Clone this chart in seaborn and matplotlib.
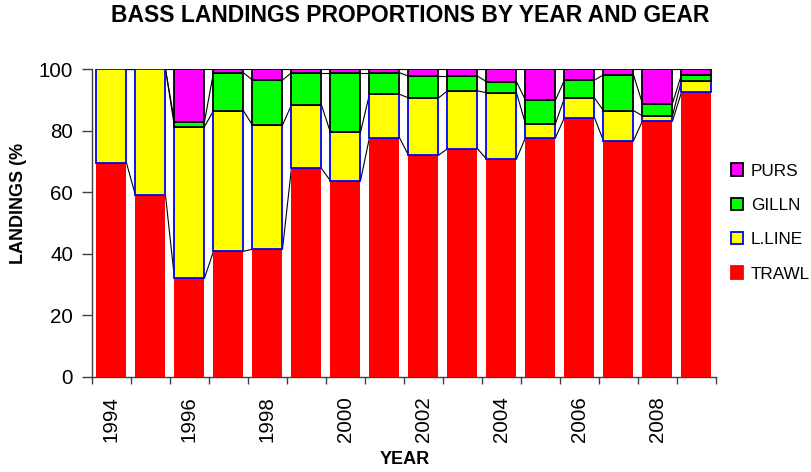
import numpy as np
import pandas as pd
import matplotlib
matplotlib.use("Agg")
import matplotlib.pyplot as plt
import seaborn as sns
from matplotlib.patches import Patch

# Share of bass landings (%) by gear, 1994-2009
years = [str(y) for y in range(1994, 2010)]
trawl = [69.5, 59.0, 32.1, 40.8, 41.5, 67.7, 63.7, 77.7, 72.0, 74.1, 70.8, 77.7, 84.2, 76.7, 83.1, 92.4]
lline = [30.5, 41.0, 49.2, 45.6, 40.3, 20.6, 15.7, 14.1, 18.6, 18.8, 21.5, 4.6, 6.4, 9.8, 1.7, 3.8]
gilln = [0.0, 0.0, 1.6, 12.4, 14.6, 10.5, 19.4, 7.0, 7.1, 4.8, 3.6, 7.6, 5.8, 11.6, 4.0, 1.9]
purs = [0.0, 0.0, 17.1, 1.2, 3.6, 1.2, 1.2, 1.2, 2.3, 2.3, 4.1, 10.1, 3.6, 1.9, 11.2, 1.9]

gears = ["TRAWL", "L.LINE", "GILLN", "PURS"]
series = [trawl, lline, gilln, purs]
fills = ["#FF0000", "#FFFF00", "#00FF00", "#FF00FF"]
edges = ["none", "#0000FF", "#000000", "#000000"]
widths = [0.0, 1.3, 1.3, 1.3]

sns.set_theme(style="white")
plt.rcParams["font.family"] = ["Liberation Sans", "DejaVu Sans"]
plt.rcParams["text.color"] = "black"
plt.rcParams["xtick.color"] = "black"
plt.rcParams["ytick.color"] = "black"

fig = plt.figure(figsize=(8.11, 4.72), dpi=100)
ax = fig.add_axes([0.1134, 0.2013, 0.7694, 0.6525])

bottom = np.zeros(len(years))
layer_patches = []
for name, vals, fc, ec, lw in zip(gears, series, fills, edges, widths):
    df = pd.DataFrame({"year": years, "pct": vals})
    n_before = len(ax.patches)
    sns.barplot(data=df, x="year", y="pct", order=years, color=fc,
                saturation=1, width=0.77, bottom=bottom.copy(),
                errorbar=None, ax=ax, zorder=3)
    new = ax.patches[n_before:]
    for p, v in zip(new, vals):
        p.set_facecolor(fc)
        p.set_edgecolor(ec)
        p.set_linewidth(lw)
        if v <= 0:
            p.set_visible(False)
    layer_patches.append(new)
    bottom = bottom + np.asarray(vals)

# series lines joining the top of each segment between neighbouring bars
for patches in layer_patches:
    for a, b in zip(patches[:-1], patches[1:]):
        ya = a.get_y() + a.get_height()
        yb = b.get_y() + b.get_height()
        ax.plot([a.get_x() + a.get_width(), b.get_x()], [ya, yb],
                color="black", lw=0.8, zorder=2)

ax.set_xlim(-0.5, len(years) - 0.5)
ax.set_ylim(0, 100)
ax.set_yticks([0, 20, 40, 60, 80, 100])
ax.tick_params(axis="y", direction="out", length=7, width=1, color="#404040",
               labelsize=14.8, left=True, pad=6.5)

# year labels under every other bar, tick marks at bar boundaries
ax.set_xticks(range(len(years)))
ax.set_xticklabels([y if i % 2 == 0 and i < 15 else "" for i, y in enumerate(years)],
                   rotation=90, fontsize=14.8)
ax.tick_params(axis="x", which="major", length=0, pad=14)
ax.set_xticks(np.arange(-0.5, len(years)), minor=True)
ax.tick_params(axis="x", which="minor", direction="out", length=5, width=1,
               color="#404040", bottom=True)

for side in ["top", "right"]:
    ax.spines[side].set_visible(False)
for side in ["left", "bottom"]:
    ax.spines[side].set_color("#404040")
    ax.spines[side].set_linewidth(1)
ax.grid(False)
ax.set_xlabel("")
ax.set_ylabel("")

fig.text(0.4994, 1 - 460 / 472, "YEAR", ha="center", va="center",
         fontsize=13, fontweight="bold")
fig.text(19 / 811, 1 - 203 / 472, "LANDINGS (%", ha="center", va="center",
         rotation=90, fontsize=13, fontweight="bold")
fig.text(0.5055, 1 - 15.5 / 472, "BASS LANDINGS PROPORTIONS BY YEAR AND GEAR",
         ha="center", va="center", fontsize=16.5, fontweight="bold")

handles = [Patch(facecolor=fc, edgecolor=(fc if ec == "none" else ec), linewidth=1.3)
           for fc, ec in zip(fills, edges)]
leg = fig.legend(handles[::-1], gears[::-1], loc="center left",
                 bbox_to_anchor=(0.882, 0.5286), frameon=False, fontsize=12.3,
                 handlelength=0.74, handleheight=0.74, handletextpad=0.45,
                 labelspacing=1.12)

fig.savefig("out.png", dpi=100)
